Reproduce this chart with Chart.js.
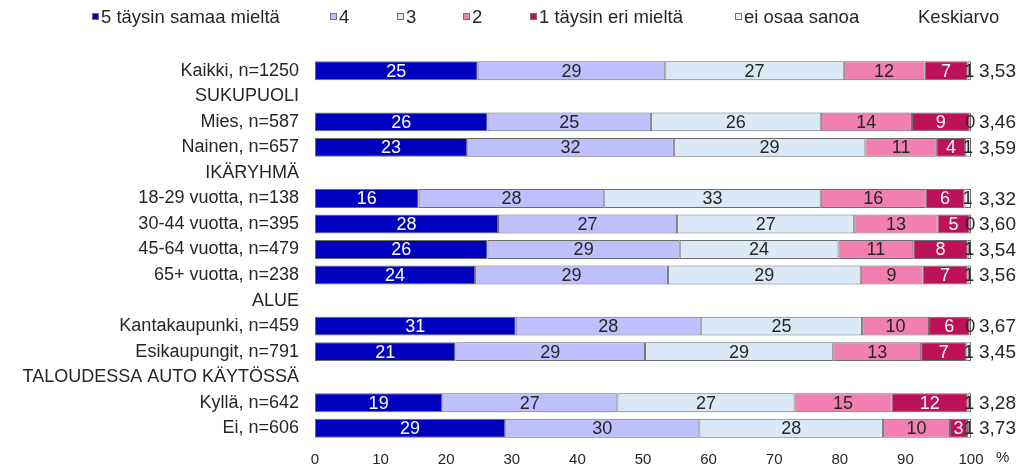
<!DOCTYPE html>
<html>
<head>
<meta charset="utf-8">
<script src="https://cdn.jsdelivr.net/npm/chart.js@4.4.0/dist/chart.umd.min.js"></script>
<style>
  html, body { margin: 0; padding: 0; background: #fff; }
  #wrap { width: 1019px; height: 473px; position: relative; }
</style>
</head>
<body>
<div id="wrap"><canvas id="likertChart"></canvas></div>
<script>
// Survey answers by group, percent (headers have no bar)
const categories = [
  'Kaikki, n=1250',
  'SUKUPUOLI',
  'Mies, n=587',
  'Nainen, n=657',
  'IKÄRYHMÄ',
  '18-29 vuotta, n=138',
  '30-44 vuotta, n=395',
  '45-64 vuotta, n=479',
  '65+ vuotta, n=238',
  'ALUE',
  'Kantakaupunki, n=459',
  'Esikaupungit, n=791',
  'TALOUDESSA AUTO KÄYTÖSSÄ',
  'Kyllä, n=642',
  'Ei, n=606',
];

const seriesNames = ['5 täysin samaa mieltä', '4', '3', '2', '1 täysin eri mieltä', 'ei osaa sanoa'];

const agree5 = [24.8, null, 26.3, 23.2, null, 15.8, 27.9, 26.3, 24.4, null, 30.6, 21.4, null, 19.4, 29.0];
const agree4 = [28.6, null, 24.9, 31.5, null, 28.3, 27.3, 29.3, 29.4, null, 28.2, 28.9, null, 26.7, 29.6];
const neutral3 = [27.2, null, 25.9, 29.2, null, 33.0, 27.0, 24.2, 29.4, null, 24.6, 28.7, null, 27.0, 28.0];
const disagree2 = [12.3, null, 13.9, 10.9, null, 16.0, 12.7, 11.4, 9.4, null, 10.2, 13.4, null, 14.8, 10.2];
const disagree1 = [6.6, null, 8.8, 4.3, null, 5.9, 4.9, 8.3, 6.9, null, 6.2, 6.9, null, 11.6, 2.6];
const cantSay = [0.5, null, 0.2, 0.9, null, 1.0, 0.2, 0.5, 0.5, null, 0.2, 0.7, null, 0.5, 0.6];

const means = [3.53, null, 3.46, 3.59, null, 3.32, 3.60, 3.54, 3.56, null, 3.67, 3.45, null, 3.28, 3.73];

const xTicks = [0, 10, 20, 30, 40, 50, 60, 70, 80, 90, 100];

const FONT = "'Liberation Sans', Arial, sans-serif";
const TEXT = '#262626';
const colors = ['#0000bf', '#bfbffe', '#dbe9f7', '#f17faf', '#bd1259', '#f2f2f2'];
const labelColors = ['#ffffff', TEXT, TEXT, TEXT, '#ffffff', TEXT];
const legendX = [92, 330, 397, 463, 530, 735];

const segmentLabels = {
  id: 'segmentLabels',
  afterDatasetsDraw(chart) {
    const { ctx } = chart;
    ctx.save();
    ctx.font = `18px ${FONT}`;
    ctx.textAlign = 'center';
    ctx.textBaseline = 'middle';
    chart.data.datasets.forEach((ds, i) => {
      const meta = chart.getDatasetMeta(i);
      meta.data.forEach((bar, j) => {
        const v = ds.data[j];
        if (v == null) return;
        ctx.fillStyle = labelColors[i];
        ctx.fillText(String(Math.round(v)), (bar.x + bar.base) / 2, bar.y + 1);
      });
    });
    ctx.restore();
  },
};

const sideTexts = {
  id: 'sideTexts',
  afterDraw(chart) {
    const { ctx, chartArea } = chart;
    const y = chart.scales.y;
    ctx.save();
    ctx.fillStyle = TEXT;
    ctx.textBaseline = 'middle';
    ctx.textAlign = 'left';

    // mean values at the right
    ctx.font = `19px ${FONT}`;
    means.forEach((m, j) => {
      if (m == null) return;
      ctx.fillText(m.toFixed(2).replace('.', ','), chartArea.right + 8, y.getPixelForValue(j) + 1);
    });

    // percent sign after the x axis
    ctx.font = `15px ${FONT}`;
    ctx.fillText('%', 996, 458);

    // legend
    ctx.font = `18.5px ${FONT}`;
    seriesNames.forEach((name, i) => {
      const bx = legendX[i];
      ctx.fillStyle = colors[i];
      ctx.fillRect(bx, 13, 7, 7);
      ctx.strokeStyle = '#707070';
      ctx.lineWidth = 1;
      ctx.strokeRect(bx + 0.5, 13.5, 6, 6);
      ctx.fillStyle = TEXT;
      ctx.fillText(name, bx + 9, 18);
    });
    ctx.fillText('Keskiarvo', 918, 18);
    ctx.restore();
  },
};

function createLikertChart() {
  const canvas = document.getElementById('likertChart');
  if (!canvas) return;

  const values = [agree5, agree4, neutral3, disagree2, disagree1, cantSay];

  new Chart(canvas.getContext('2d'), {
    type: 'bar',
    data: {
      labels: categories,
      datasets: values.map((data, i) => ({
        label: seriesNames[i],
        data,
        backgroundColor: colors[i],
        borderColor: '#6b6b6b',
        borderWidth: 1,
        borderSkipped: false,
        barPercentage: 0.74,
        categoryPercentage: 1,
      })),
    },
    options: {
      indexAxis: 'y',
      responsive: true,
      maintainAspectRatio: false,
      animation: false,
      layout: { padding: { top: 58, right: 48, bottom: 0, left: 0 } },
      plugins: {
        legend: { display: false },
        tooltip: { enabled: false },
      },
      scales: {
        x: {
          stacked: true,
          min: 0,
          max: 100,
          afterBuildTicks: (scale) => {
            scale.ticks = xTicks.map((v) => ({ value: v }));
          },
          afterFit: (scale) => {
            scale.height = 32;
          },
          grid: { display: false, drawTicks: false },
          border: { display: false },
          ticks: {
            color: TEXT,
            padding: 10,
            font: { family: FONT, size: 15 },
          },
        },
        y: {
          stacked: true,
          afterFit: (scale) => {
            scale.width = 315;
          },
          grid: { display: false, drawTicks: false },
          border: { display: false },
          ticks: {
            color: TEXT,
            padding: 16,
            autoSkip: false,
            font: { family: FONT, size: 18 },
          },
        },
      },
    },
    plugins: [segmentLabels, sideTexts],
  });
}

document.addEventListener('DOMContentLoaded', createLikertChart);
</script>
</body>
</html>
